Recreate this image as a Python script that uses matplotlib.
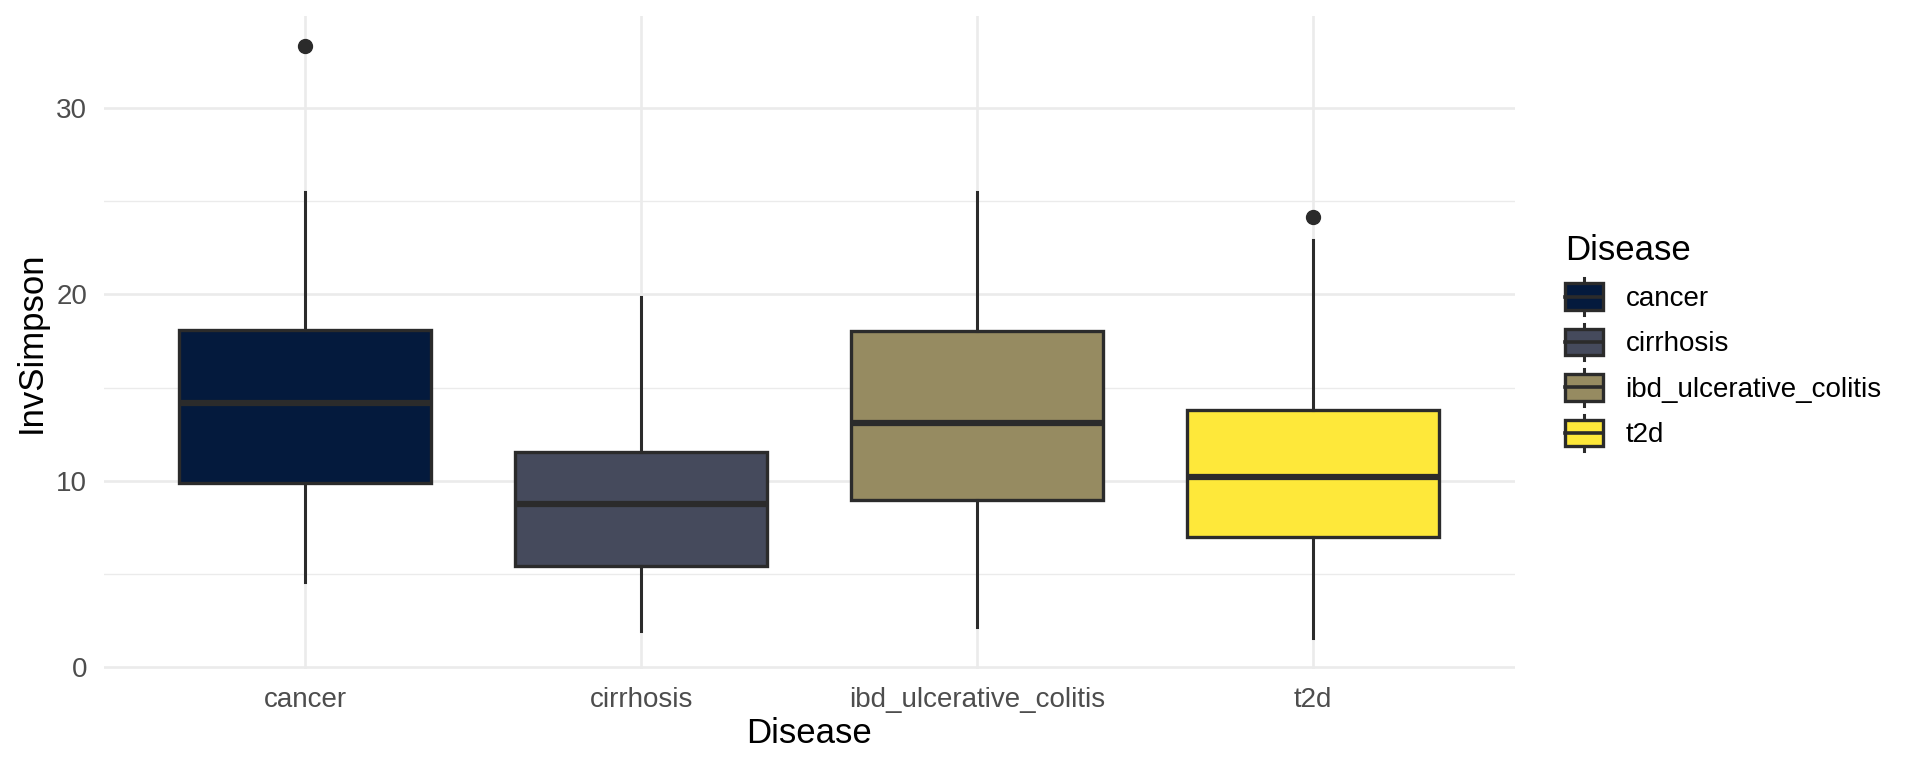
import matplotlib.pyplot as plt
from matplotlib.legend_handler import HandlerBase
from matplotlib.patches import Rectangle
from matplotlib.lines import Line2D

# box statistics
diseases = ["cancer", "cirrhosis", "ibd_ulcerative_colitis", "t2d"]
whisker_low = [4.59, 1.96, 2.15, 1.56]
q1 = [9.86, 5.45, 8.97, 6.99]
median = [14.16, 8.76, 13.11, 10.19]
q3 = [18.06, 11.55, 18.01, 13.78]
whisker_high = [25.48, 19.83, 25.48, 22.92]
outliers = [[33.28], [], [], [24.11]]
colors = ["#041a3d", "#454a5c", "#968b61", "#fee83a"]

EDGE = "#2b2b2b"

plt.rcParams['font.family'] = ['Liberation Sans', 'DejaVu Sans']

fig = plt.figure(figsize=(19.2, 7.68), dpi=100)
ax = fig.add_axes([0.054, 0.1285, 0.735, 0.8505])

stats = []
for i, d in enumerate(diseases):
    stats.append(dict(label=d, whislo=whisker_low[i], q1=q1[i], med=median[i],
                      q3=q3[i], whishi=whisker_high[i], fliers=outliers[i]))

pos = list(range(1, len(diseases) + 1))
bp = ax.bxp(stats, positions=pos, widths=0.75, patch_artist=True, showcaps=False,
            boxprops=dict(edgecolor=EDGE, linewidth=2.4),
            whiskerprops=dict(color=EDGE, linewidth=2.2),
            medianprops=dict(color=EDGE, linewidth=4.5, solid_capstyle='butt'),
            flierprops=dict(marker='o', markerfacecolor=EDGE, markeredgecolor=EDGE,
                            markersize=10, linestyle='none'),
            zorder=3)
for patch, c in zip(bp['boxes'], colors):
    patch.set_facecolor(c)

ax.set_xlim(0.4, 4.6)
ax.set_ylim(-0.1, 34.9)
ax.set_xticks(pos)
ax.set_xticklabels(diseases)
ax.set_yticks([0, 10, 20, 30])
ax.set_yticks([5, 15, 25], minor=True)

for s in ax.spines.values():
    s.set_visible(False)
ax.tick_params(axis='both', which='both', length=0, labelsize=20, labelcolor="#4d4d4d")
ax.tick_params(axis='x', pad=12.4)
ax.tick_params(axis='y', pad=12)
ax.grid(True, which='major', color="#ebebeb", linewidth=1.9, zorder=0)
ax.grid(True, which='minor', axis='y', color="#ebebeb", linewidth=1.0, zorder=0)
ax.set_axisbelow(True)

ax.set_xlabel("Disease", fontsize=25, labelpad=3.5)
ax.set_ylabel("InvSimpson", fontsize=25, labelpad=6)


class BoxKeyHandler(HandlerBase):
    def create_artists(self, legend, orig_handle, xdescent, ydescent,
                       width, height, fontsize, trans):
        fc = orig_handle.get_facecolor()
        x0 = xdescent
        bh = height
        y0 = -ydescent
        box = Rectangle((x0, y0), width, bh, facecolor=fc, edgecolor=EDGE,
                        linewidth=2.4, transform=trans)
        cx = x0 + width / 2
        cy = y0 + bh / 2
        med = Line2D([x0, x0 + width], [cy, cy], color=EDGE, linewidth=2.6, transform=trans)
        w1 = Line2D([cx, cx], [y0 + bh, y0 + bh + height * 0.18], color=EDGE,
                    linewidth=2.2, transform=trans)
        w2 = Line2D([cx, cx], [y0, y0 - height * 0.18], color=EDGE,
                    linewidth=2.2, transform=trans)
        return [w1, w2, box, med]


handles = [Rectangle((0, 0), 1, 1, facecolor=c) for c in colors]
leg = fig.legend(handles, diseases, title="Disease", loc='upper left',
                 bbox_to_anchor=(0.808, 0.714), frameon=False, fontsize=20,
                 title_fontsize=25, handler_map={Rectangle: BoxKeyHandler()},
                 handlelength=1.37, handleheight=1.1, handletextpad=0.8,
                 labelspacing=0.6, borderpad=0, alignment='left')

fig.savefig("out.png", dpi=100, facecolor="white")
